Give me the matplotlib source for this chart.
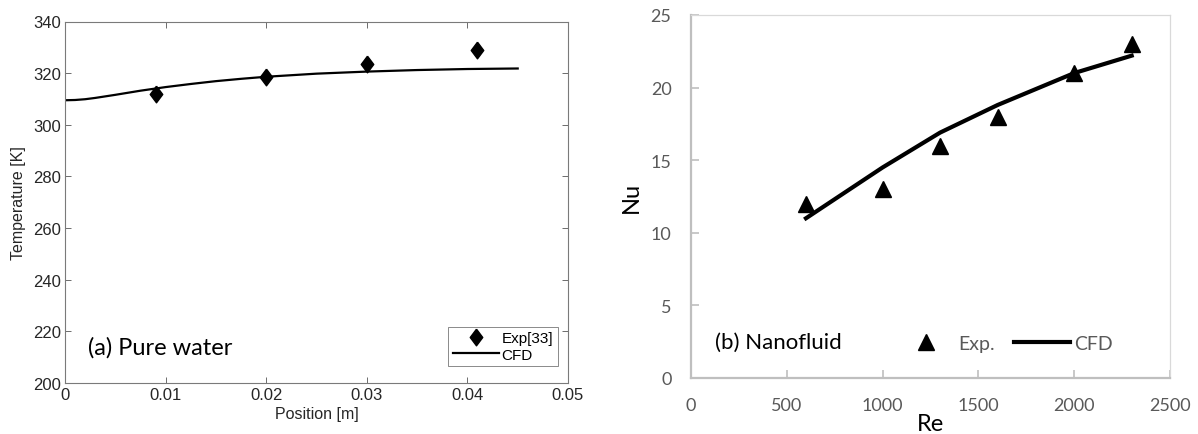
import matplotlib.pyplot as plt
import numpy as np

# (a) pure water: temperature along the channel
exp_pos = [0.009, 0.020, 0.030, 0.041]
exp_temp = [312.0, 318.5, 323.5, 329.0]
cfd_pos = [0.0, 0.001, 0.002, 0.003, 0.005, 0.0075, 0.010, 0.0125, 0.015, 0.0175,
           0.020, 0.025, 0.030, 0.035, 0.040, 0.045]
cfd_temp = [309.5, 309.6, 309.9, 310.4, 311.6, 313.2, 314.6, 315.8, 316.9, 317.8,
            318.6, 319.8, 320.6, 321.2, 321.6, 321.8]

# (b) nanofluid: Nu against Re
exp_re = [600, 1000, 1300, 1600, 2000, 2300]
exp_nu = [12.0, 13.0, 16.0, 18.0, 21.0, 23.0]
cfd_re = [600, 1000, 1300, 1600, 2000, 2300]
cfd_nu = [11.0, 14.5, 16.9, 18.8, 21.0, 22.2]

helv = 'Liberation Sans'
cal = 'Lato'

fig = plt.figure(figsize=(11.98, 4.35), dpi=100)

# ---- left panel, matlab look
ax1 = fig.add_axes([65/1198, 1 - 384/435, (568 - 65)/1198, (384 - 22.5)/435])
diamond = [(0, 1), (0.75, 0), (0, -1), (-0.75, 0), (0, 1)]
ax1.plot(exp_pos, exp_temp, linestyle='none', marker=diamond, markersize=12,
         color='black', label='Exp[33]')
ax1.plot(cfd_pos, cfd_temp, color='black', lw=1.6, label='CFD')
ax1.set_xlim(0, 0.05)
ax1.set_ylim(200, 340)
ax1.set_xticks(np.arange(0, 0.051, 0.01))
ax1.set_xticklabels(['0', '0.01', '0.02', '0.03', '0.04', '0.05'])
ax1.set_yticks(np.arange(200, 341, 20))
ax1.tick_params(direction='in', top=True, right=True, length=4, width=0.6,
                color='#555555', labelcolor='#262626', labelsize=12, pad=3)
for lab in ax1.get_xticklabels() + ax1.get_yticklabels():
    lab.set_family(helv)
for s in ax1.spines.values():
    s.set_color('#7a7a7a')
    s.set_linewidth(0.8)
ax1.set_xlabel('Position [m]', family=helv, fontsize=11.5, color='#262626', labelpad=3)
ax1.set_ylabel('Temperature [K]', family=helv, fontsize=11.5, color='#262626', labelpad=5)
ax1.text(0.045, 0.1, '(a) Pure water', transform=ax1.transAxes, family=cal,
         fontsize=17, color='black', va='center')
leg1 = ax1.legend(loc='lower right', bbox_to_anchor=(0.995, 0.025), fancybox=False,
                  edgecolor='#555555', handlelength=3.0, handletextpad=0.2,
                  borderpad=0.3, labelspacing=0.15,
                  prop={'family': helv, 'size': 11})
leg1.get_frame().set_linewidth(0.6)

# ---- right panel, excel look
ax2 = fig.add_axes([691/1198, 1 - 379/435, (1170 - 691)/1198, (379 - 16)/435])
ax2.plot(exp_re, exp_nu, linestyle='none', marker='^', markersize=11,
         color='black', label='Exp.')
ax2.plot(cfd_re, cfd_nu, color='black', lw=3, label='CFD')
ax2.set_xlim(0, 2500)
ax2.set_ylim(0, 25)
ax2.set_xticks(np.arange(0, 2501, 500))
ax2.set_yticks(np.arange(0, 26, 5))
ax2.tick_params(direction='in', length=6, width=1.2, color='#bfbfbf',
                labelcolor='#595959', labelsize=13)
ax2.tick_params(axis='x', pad=14)
ax2.tick_params(axis='y', pad=14)
for lab in ax2.get_xticklabels() + ax2.get_yticklabels():
    lab.set_family(cal)
for name, s in ax2.spines.items():
    if name in ('left', 'bottom'):
        s.set_color('#bfbfbf')
        s.set_linewidth(1.6)
    else:
        s.set_color('#d9d9d9')
        s.set_linewidth(0.9)
ax2.set_xlabel('Re', family=cal, fontsize=17, color='black', labelpad=0)
ax2.set_ylabel('Nu', family=cal, fontsize=17, color='black', labelpad=6)
ax2.text(0.05, 0.1, '(b) Nanofluid', transform=ax2.transAxes, family=cal,
         fontsize=16, color='black', va='center')
leg2 = ax2.legend(loc='center left', bbox_to_anchor=(0.395, 0.095), ncol=2,
                  frameon=False, handlelength=2.9, handletextpad=0.2,
                  columnspacing=1.0, prop={'family': cal, 'size': 14})
for t in leg2.get_texts():
    t.set_color('#595959')

fig.savefig('out.png', dpi=100)
